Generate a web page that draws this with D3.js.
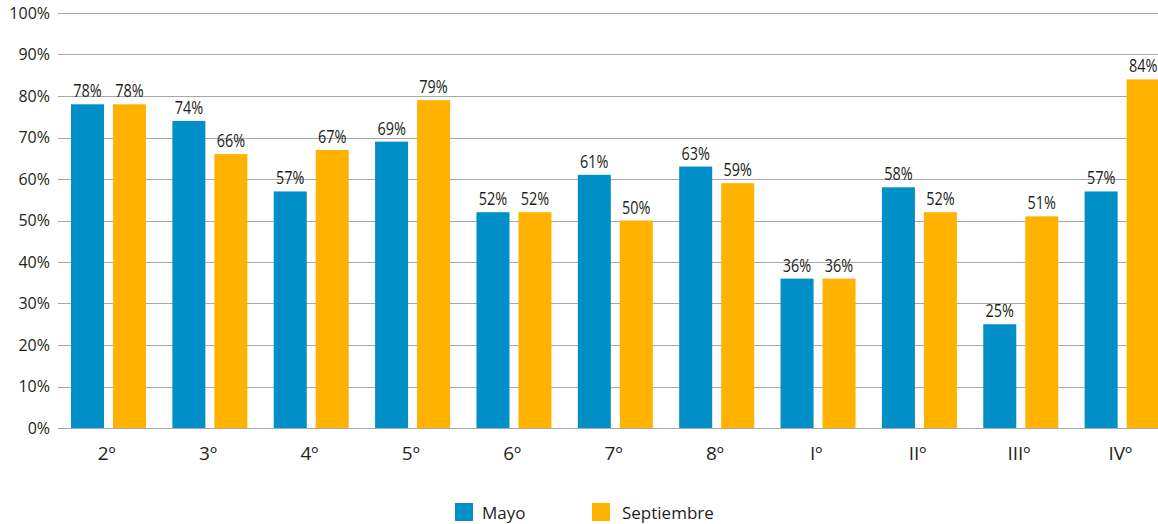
<html lang="es">
<head>
<meta charset="UTF-8">
<title>Mayo vs Septiembre</title>
<style>
    body { margin: 0; background: #fff; }
    svg { display: block; }
    .tick-label { font-family: "Open Sans", "Noto Sans", sans-serif; font-size: 16px; fill: #231f20; }
    .cat-label { font-family: "Open Sans", "Noto Sans", sans-serif; font-size: 19px; fill: #231f20; }
    .val-label { font-family: "Open Sans", "Noto Sans", sans-serif; font-size: 19px; fill: #231f20; }
    .legend-label { font-family: "Open Sans", "Noto Sans", sans-serif; font-size: 17px; fill: #231f20; }
</style>
</head>
<body>
<div id="chart"></div>
<script src="https://d3js.org/d3.v7.min.js"></script>
<script>
    const categories = ['2º', '3º', '4º', '5º', '6º', '7º', '8º', 'Iº', 'IIº', 'IIIº', 'IVº'];
    const series = ['Mayo', 'Septiembre'];
    const mayo = [78, 74, 57, 69, 52, 61, 63, 36, 58, 25, 57];
    const septiembre = [78, 66, 67, 79, 52, 50, 59, 36, 52, 51, 84];
    const yTicks = [0, 10, 20, 30, 40, 50, 60, 70, 80, 90, 100];
    const colors = ['#008fc7', '#ffb300'];

    const width = 1158;
    const height = 524;

    const svg = d3.select('#chart').append('svg')
        .attr('width', width)
        .attr('height', height);

    // plot runs a little past the right edge, like the original
    const x0 = d3.scaleBand().domain(categories).range([58, 1173]).padding(0);
    const x1 = d3.scaleBand().domain(series).range([13, 88]).paddingInner(0.214);
    const y = d3.scaleLinear().domain([0, 100]).range([428, 13]);
    const color = d3.scaleOrdinal().domain(series).range(colors);

    // gridlines
    svg.append('g')
        .selectAll('line')
        .data(yTicks)
        .join('line')
        .attr('x1', 58)
        .attr('x2', width)
        .attr('y1', d => Math.round(y(d)) + 0.5)
        .attr('y2', d => Math.round(y(d)) + 0.5)
        .attr('stroke', '#a8a8a8')
        .attr('stroke-width', 1.2);

    svg.append('g')
        .selectAll('text')
        .data(yTicks)
        .join('text')
        .attr('class', 'tick-label')
        .attr('x', 50)
        .attr('y', d => y(d))
        .attr('dy', '0.35em')
        .attr('text-anchor', 'end')
        .text(d => d + '%');

    const rows = categories.map((c, i) => ({ cat: c, vals: [mayo[i], septiembre[i]] }));

    const groups = svg.append('g')
        .selectAll('g')
        .data(rows)
        .join('g')
        .attr('transform', d => `translate(${x0(d.cat)},0)`);

    groups.selectAll('rect')
        .data(d => series.map((s, j) => ({ key: s, value: d.vals[j] })))
        .join('rect')
        .attr('x', d => x1(d.key))
        .attr('y', d => y(d.value))
        .attr('width', x1.bandwidth())
        .attr('height', d => y(0) - y(d.value))
        .attr('fill', d => color(d.key));

    // value labels, squeezed horizontally to mimic a condensed face
    groups.selectAll('text')
        .data(d => series.map((s, j) => ({ key: s, value: d.vals[j] })))
        .join('text')
        .attr('class', 'val-label')
        .attr('transform', d => `translate(${x1(d.key) + x1.bandwidth() / 2},${y(d.value) - 7}) scale(0.76,1)`)
        .attr('text-anchor', 'middle')
        .text(d => d.value + '%');

    svg.append('g')
        .selectAll('text')
        .data(categories)
        .join('text')
        .attr('class', 'cat-label')
        .attr('x', d => x0(d) + x0.bandwidth() / 2 - 2)
        .attr('y', 460)
        .attr('text-anchor', 'middle')
        .text(d => d);

    // legend
    const legendX = [455, 592];
    const legend = svg.append('g')
        .selectAll('g')
        .data(series)
        .join('g')
        .attr('transform', (d, i) => `translate(${legendX[i]},503)`);
    legend.append('rect')
        .attr('width', 18)
        .attr('height', 18)
        .attr('fill', d => color(d));
    legend.append('text')
        .attr('class', 'legend-label')
        .attr('x', (d, i) => i === 0 ? 27 : 30)
        .attr('y', 16)
        .text(d => d);
</script>
</body>
</html>
